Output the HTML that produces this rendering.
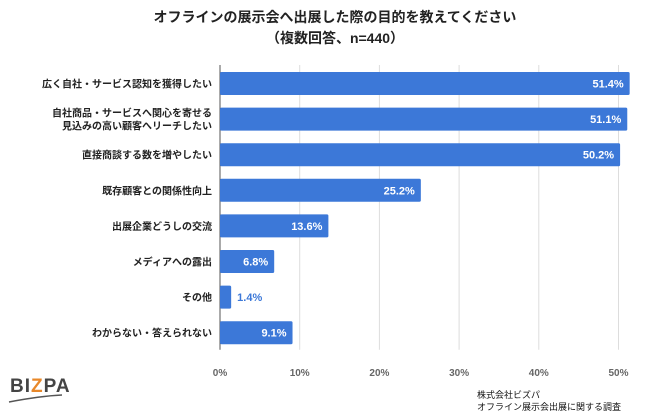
<!DOCTYPE html>
<html><head><meta charset="utf-8">
<style>
body{margin:0;background:#fff;}
svg{display:block;font-family:"Liberation Sans","Noto Sans CJK JP",sans-serif;}
</style></head>
<body>
<svg id="chart" width="650" height="418" viewBox="0 0 650 418">
<text x="335" y="22" text-anchor="middle" font-size="14" font-weight="bold" fill="#222">オフラインの展示会へ出展した際の目的を教えてください</text>
<text x="335" y="43" text-anchor="middle" font-size="14" font-weight="bold" fill="#222">（複数回答、n=440）</text>
<g id="grid"></g>
<g id="bars"></g>
<g id="labels"></g>
<g>
<text x="10" y="392" font-size="19" font-weight="bold" fill="#444" letter-spacing="1">BI<tspan fill="#e8882a">Z</tspan>PA</text>
<path d="M9 402 Q40 396 62 395" stroke="#555" stroke-width="1.5" fill="none"/>
</g>
<text x="477" y="398" font-size="9" fill="#111">株式会社ビズパ</text>
<text x="477" y="410" font-size="9" fill="#111">オフライン展示会出展に関する調査</text>
</svg>
<script>
const categories=[["広く自社・サービス認知を獲得したい"],["自社商品・サービスへ関心を寄せる","見込みの高い顧客へリーチしたい"],["直接商談する数を増やしたい"],["既存顧客との関係性向上"],["出展企業どうしの交流"],["メディアへの露出"],["その他"],["わからない・答えられない"]];
const values=[51.4,51.1,50.2,25.2,13.6,6.8,1.4,9.1];
const ticks=[0,10,20,30,40,50];
const NS="http://www.w3.org/2000/svg";
const x0=220, pxPer=7.97, plotTop=65, pitch=35.6, barH=23;
const x=v=>x0+v*pxPer;
const yc=i=>plotTop+18.5+i*pitch;
function mk(t,a,p){const e=document.createElementNS(NS,t);for(const k in a)e.setAttribute(k,a[k]);p.appendChild(e);return e;}
const grid=document.getElementById('grid'),bars=document.getElementById('bars'),labels=document.getElementById('labels');
const plotBottom=plotTop+categories.length*pitch;
ticks.forEach(t=>{
 const l=mk('line',{x1:x(t),x2:x(t),y1:plotTop,y2:plotBottom,stroke:t===0?'#555':'#ddd','stroke-width':1},grid);
 
 
 const tx=mk('text',{x:x(t),y:376,'text-anchor':'middle','font-size':10,'font-weight':'bold',fill:'#666'},labels);
 tx.textContent=t+'%';
 
 
});
values.forEach((v,i)=>{
 const r=mk('rect',{x:x0,y:yc(i)-barH/2,width:x(v)-x0,height:barH,fill:'#3c78d8',rx:1.5},bars);
 
 
 const inside=v>5;
 const vl=mk('text',{x:inside?x(v)-6:x(v)+6,y:yc(i)+4,'text-anchor':inside?'end':'start','font-size':11,'font-weight':'bold',fill:inside?'#fff':'#3c78d8'},labels);
 vl.textContent=v.toFixed(1)+'%';
 
 
 const lines=categories[i];
 lines.forEach((s,j)=>{
  const cl=mk('text',{x:212,y:yc(i)+4+(j-(lines.length-1)/2)*13,'text-anchor':'end','font-size':10,'font-weight':'bold',fill:'#222'},labels);
  cl.textContent=s;
  
  
 });
});
</script>
</body></html>
